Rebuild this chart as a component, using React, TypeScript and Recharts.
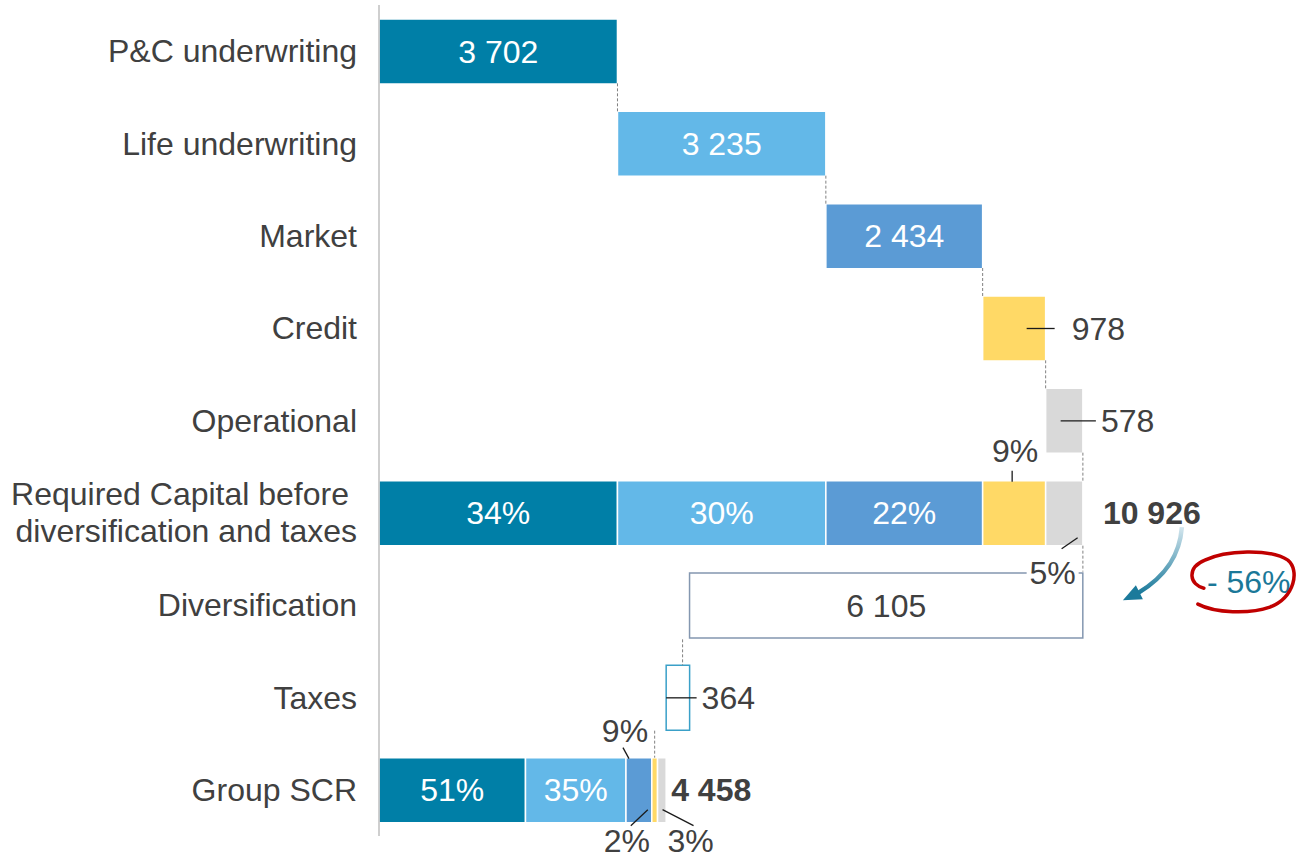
import React from 'react'
import { BarChart, Bar, XAxis, YAxis, LabelList } from 'recharts'

const categories = [
  'P&C underwriting',
  'Life underwriting',
  'Market',
  'Credit',
  'Operational',
  'Required Capital before\ndiversification and taxes',
  'Diversification',
  'Taxes',
  'Group SCR',
]

// invisible offset for the floating waterfall bars
const baseValues = [0, 3702, 6937, 9371, 10349, 0, 4821, 4458, 0]
const pcValues = [3702, 0, 0, 0, 0, 3702, 0, 0, 2274]
const lifeValues = [0, 3235, 0, 0, 0, 3235, 0, 0, 1560]
const marketValues = [0, 0, 2434, 0, 0, 2434, 0, 0, 401]
const creditValues = [0, 0, 0, 978, 0, 978, 0, 0, 89]
const operationalValues = [0, 0, 0, 0, 578, 578, 0, 0, 134]
const diversificationValues = [0, 0, 0, 0, 0, 0, 6105, 0, 0]
const taxValues = [0, 0, 0, 0, 0, 0, 0, 364, 0]

const requiredShares = ['34%', '30%', '22%', '9%', '5%']
const groupShares = ['51%', '35%', '9%', '2%', '3%']
const requiredTotal = 10926
const groupTotal = 4458
const reductionLabel = '- 56%'

const REQUIRED = 5
const GROUP = 8

const data = categories.map((name, i) => ({
  row: i,
  name,
  base: baseValues[i],
  div: diversificationValues[i],
  tax: taxValues[i],
  a1: pcValues[i],
  a2: lifeValues[i],
  a3: marketValues[i],
  a4: creditValues[i],
  a5: operationalValues[i],
}))

const COLORS = ['#007FA7', '#63B8E8', '#5B9BD5', '#FFD966', '#D9D9D9']
const FONT = '"Liberation Sans", Arial, sans-serif'
const TEXT = '#404040'
const DASH = '#808080'
const FS = 32

const TOP = 5
const BAND = (860 - 5 - 24) / categories.length

const fmt = (n: number) => String(n).replace(/\B(?=(\d{3})+(?!\d))/g, ' ')

// label props -> geometry + row index + the series value
function box(props: any, key: string) {
  const vb = props.viewBox || props
  const x = Number(vb.x)
  const y = Number(vb.y)
  const w = Number(vb.width)
  const h = Number(vb.height)
  const entry = props.value
  let row: number
  if (entry && typeof entry === 'object' && entry.payload) row = entry.payload.row
  else row = Math.floor((y + h / 2 - TOP) / BAND)
  const v = Number((data[row] as any)?.[key])
  return { x, y, w, h, i: row, v }
}

const dash = (key: string, x: number, y1: number, y2: number) => (
  <line key={key} x1={x} x2={x} y1={y1} y2={y2} stroke={DASH} strokeWidth={1} strokeDasharray="3 2" />
)

const lead = (key: string, x1: number, y1: number, x2: number, y2: number) => (
  <line key={key} x1={x1} y1={y1} x2={x2} y2={y2} stroke="#1a1a1a" strokeWidth={1.3} />
)

const txt = (key: string, x: number, y: number, s: string, fill = TEXT, anchor = 'middle', bold = false) => (
  <text key={key} x={x} y={y} fill={fill} textAnchor={anchor as any} fontSize={FS} fontFamily={FONT} fontWeight={bold ? 'bold' : 'normal'}>
    {s}
  </text>
)

const entryAccessor = (entry: any) => entry

const segmentLabel = (k: number, key: string) => (props: any) => {
  const { x, y, w, h, i, v } = box(props, key)
  if (!v || !isFinite(x)) return null
  const cx = x + w / 2
  const cy = y + h / 2
  const bottom = y + h
  const parts: React.ReactNode[] = []

  if (i === k) {
    // waterfall step
    if (i > 0) parts.push(dash('c', x, y - 28, y))
    if (k <= 2) parts.push(txt('t', cx, cy + 11, fmt(v), '#fff'))
    else if (k === 3) {
      parts.push(lead('l', x + 44, cy, x + w + 9, cy))
      parts.push(txt('t', x + w + 26, cy + 11, fmt(v), TEXT, 'start'))
    } else {
      parts.push(lead('l', x + 15, cy, x + w + 13, cy))
      parts.push(txt('t', x + w + 18, cy + 11, fmt(v), TEXT, 'start'))
    }
  } else if (i === REQUIRED) {
    const s = requiredShares[k]
    if (k <= 2) parts.push(txt('t', cx, cy + 11, s, '#fff'))
    else if (k === 3) {
      parts.push(lead('l', cx - 2, y - 10, cx - 2, y + 1))
      parts.push(txt('t', cx + 1, y - 19, s))
    } else {
      const bx = x + w
      parts.push(dash('c1', bx, y - 28, y))
      parts.push(dash('c2', bx, bottom, bottom + 26))
      parts.push(lead('l', x + 16, bottom + 3, x + 32, bottom - 8))
      parts.push(<rect key="bg" x={x - 19} y={bottom + 15} width={52} height={28} fill="#fff" />)
      parts.push(txt('t', x + 7, bottom + 38, s))
      parts.push(txt('tot', bx + 20, cy + 11, fmt(requiredTotal), TEXT, 'start', true))
      parts.push(
        <g key="arrow">
          <defs>
            <linearGradient id="arrowGrad" x1="0" y1="0" x2="0" y2="1">
              <stop offset="0%" stopColor="#d4e6ee" />
              <stop offset="100%" stopColor="#1b7a9b" />
            </linearGradient>
          </defs>
          <path
            d={`M${bx + 99} ${cy + 14} C${bx + 97} ${cy + 40}, ${bx + 85} ${cy + 62}, ${bx + 55} ${cy + 80}`}
            fill="none"
            stroke="url(#arrowGrad)"
            strokeWidth={4.5}
          />
          <polygon points={`${bx + 40},${cy + 87} ${bx + 53},${cy + 72} ${bx + 60},${cy + 86}`} fill="#1b7a9b" />
        </g>
      )
      parts.push(txt('red', bx + 124, cy + 80, reductionLabel, '#1b7898', 'start'))
      parts.push(
        <path
          key="circle"
          d={`M${bx + 121} ${cy + 75} C${bx + 107} ${cy + 72}, ${bx + 103} ${cy + 55}, ${bx + 122} ${cy + 47} C${bx + 142} ${cy + 37}, ${bx + 187} ${cy + 35}, ${bx + 205} ${cy + 47} C${bx + 217} ${cy + 57}, ${bx + 212} ${cy + 84}, ${bx + 187} ${cy + 94} C${bx + 167} ${cy + 101}, ${bx + 132} ${cy + 100}, ${bx + 115} ${cy + 91}`}
          fill="none"
          stroke="#C00000"
          strokeWidth={3.5}
          strokeLinecap="round"
        />
      )
    }
  } else if (i === GROUP) {
    const s = groupShares[k]
    if (k <= 1) parts.push(txt('t', cx, cy + 11, s, '#fff'))
    else if (k === 2) {
      parts.push(lead('l', x - 3, y - 10, x + 3, y + 1))
      parts.push(txt('t', x - 1, y - 16, s))
    } else if (k === 3) {
      parts.push(dash('c', cx, y - 27, y))
      parts.push(lead('l', x - 4, bottom - 13, x - 21, bottom + 3))
      parts.push(txt('t', x - 25, bottom + 29, s))
    } else {
      parts.push(lead('l', x + 5, bottom - 13, x + 36, bottom + 3))
      parts.push(txt('t', x + 33, bottom + 29, s))
      parts.push(txt('tot', x + w + 5, cy + 11, fmt(groupTotal), TEXT, 'start', true))
    }
  }
  return <g>{parts}</g>
}

const diversificationLabel = (props: any) => {
  const { x, y, w, h, v } = box(props, 'div')
  if (!v || !isFinite(x)) return null
  return txt('t', x + w / 2, y + h / 2 + 11, fmt(v))
}

const taxLabel = (props: any) => {
  const { x, y, w, h, v } = box(props, 'tax')
  if (!v || !isFinite(x)) return null
  const cy = y + h / 2
  return (
    <g>
      {dash('c', x + w * 0.7, y - 26, y)}
      {lead('l', x, cy, x + w + 7, cy)}
      {txt('t', x + w + 12, cy + 11, fmt(v), TEXT, 'start')}
    </g>
  )
}

function CategoryTick(props: any) {
  const { y, payload } = props
  const lines = String(payload.value).split('\n')
  if (lines.length === 1) {
    return txt('t', 357, y + 11, lines[0], TEXT, 'end')
  }
  return (
    <g>
      {txt('t1', 349, y - 8, lines[0], TEXT, 'end')}
      {txt('t2', 357, y + 29, lines[1], TEXT, 'end')}
    </g>
  )
}

const seriesKeys = ['a1', 'a2', 'a3', 'a4', 'a5']

export default function App() {
  return (
    <div style={{ position: 'absolute', left: 0, top: 0, width: 1296, height: 860, background: '#fff' }}>
      <BarChart
        width={1296}
        height={860}
        data={data}
        layout="vertical"
        margin={{ top: TOP, right: 144, bottom: 24, left: 0 }}
        barSize={65}
      >
        <XAxis type="number" domain={[0, 12000]} hide />
        <YAxis
          type="category"
          dataKey="name"
          width={379}
          axisLine={{ stroke: '#bfbfbf', strokeWidth: 1.5 }}
          tickLine={false}
          tick={<CategoryTick />}
          interval={0}
        />
        <Bar dataKey="base" stackId="s" fill="transparent" isAnimationActive={false} />
        <Bar dataKey="div" stackId="s" fill="#fff" stroke="#8497B0" strokeWidth={1.5} isAnimationActive={false}>
          <LabelList valueAccessor={entryAccessor} content={diversificationLabel} />
        </Bar>
        <Bar dataKey="tax" stackId="s" fill="#fff" stroke="#3AA0C8" strokeWidth={1.5} isAnimationActive={false}>
          <LabelList valueAccessor={entryAccessor} content={taxLabel} />
        </Bar>
        {seriesKeys.map((key, k) => (
          <Bar key={key} dataKey={key} stackId="s" fill={COLORS[k]} stroke="#fff" strokeWidth={1.5} isAnimationActive={false}>
            <LabelList valueAccessor={entryAccessor} content={segmentLabel(k, key)} />
          </Bar>
        ))}
      </BarChart>
    </div>
  )
}
